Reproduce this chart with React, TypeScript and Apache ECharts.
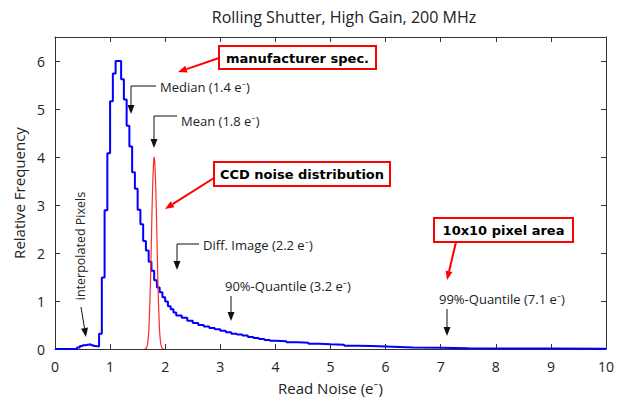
import React, { useEffect, useRef } from "react";
import * as echarts from "echarts";

// Histogram of read noise (bin left edges and heights)
const histEdges = [
  0, 0.4, 0.45, 0.5, 0.55, 0.6, 0.65, 0.7, 0.75, 0.8,
  0.85, 0.9, 0.95, 1.0, 1.05, 1.1, 1.15, 1.2, 1.25, 1.3, 1.35, 1.4, 1.45, 1.5, 1.55, 1.6, 1.65, 1.7, 1.75, 1.8, 1.85, 1.9, 1.95, 2.0, 2.05, 2.1, 2.15, 2.2,
  2.3, 2.4, 2.5, 2.6, 2.7, 2.8, 2.9, 3.0, 3.1, 3.2, 3.3, 3.4, 3.5, 3.6, 3.7, 3.8, 3.9, 4.0,
  4.2, 4.4, 4.6, 4.8, 5.0,
  5.25, 5.5, 5.75, 6.0, 6.25, 6.5,
  7.0, 7.5, 8.0, 9.0,
];
const histValues = [
  0, 0.03, 0.06, 0.08, 0.09, 0.1, 0.08, 0.06, 0.05, 0.32,
  1.49, 2.89, 4.08, 5.16, 5.74, 6.0, 6.0, 5.62, 5.2, 4.65, 4.22, 3.68, 3.34, 2.9, 2.6, 2.25, 2.05, 1.82, 1.63, 1.43, 1.28, 1.18, 1.08, 0.99, 0.89, 0.83, 0.76, 0.7,
  0.65, 0.59, 0.54, 0.5, 0.47, 0.44, 0.41, 0.38, 0.35, 0.32, 0.3, 0.28, 0.25, 0.23, 0.21, 0.19, 0.17, 0.16,
  0.14, 0.13, 0.11, 0.1, 0.09,
  0.07, 0.06, 0.05, 0.04, 0.03, 0.025,
  0.015, 0.01, 0.008, 0.005,
];
const histEnd = 10;

// CCD noise distribution (red curve)
const ccdX = [1.62, 1.66, 1.69, 1.71, 1.73, 1.75, 1.77, 1.79, 1.8, 1.81, 1.83, 1.85, 1.87, 1.89, 1.91, 1.94, 1.98];
const ccdY = [0, 0.02, 0.2, 0.6, 1.3, 2.3, 3.3, 3.9, 4.0, 3.9, 3.3, 2.3, 1.3, 0.6, 0.2, 0.02, 0];

const xTicks = [0, 1, 2, 3, 4, 5, 6, 7, 8, 9, 10];
const yTicks = [0, 1, 2, 3, 4, 5, 6];

const TXT = "'Open Sans', Lato, sans-serif";
const BOLD = "'DejaVu Sans', Verdana, sans-serif";

function head(x1: number, y1: number, x2: number, y2: number, color: string, len: number, wid: number) {
  const dx = x2 - x1, dy = y2 - y1;
  const d = Math.hypot(dx, dy) || 1;
  const ux = dx / d, uy = dy / d;
  const bx = x2 - ux * len, by = y2 - uy * len;
  const px = -uy * wid / 2, py = ux * wid / 2;
  return {
    base: [bx, by],
    el: {
      type: "polygon",
      shape: { points: [[x2, y2], [bx + px, by + py], [bx - px, by - py]] },
      style: { fill: color },
      silent: true,
    },
  };
}

function arrowPath(pts: number[][], color: string, lw: number, len: number, wid: number) {
  const n = pts.length;
  const h = head(pts[n - 2][0], pts[n - 2][1], pts[n - 1][0], pts[n - 1][1], color, len, wid);
  const linePts = pts.slice(0, n - 1).concat([h.base]);
  return [
    { type: "polyline", shape: { points: linePts }, style: { stroke: color, lineWidth: lw, fill: "none" }, silent: true },
    h.el,
  ];
}

function label(x: number, y: number, text: string) {
  return {
    type: "text",
    x, y,
    style: { text, font: `13px ${TXT}`, fill: "#222", textAlign: "left", textVerticalAlign: "middle" },
    silent: true,
  };
}

function redBox(x: number, y: number, w: number, h: number, text: string) {
  return [
    { type: "rect", shape: { x, y, width: w, height: h }, style: { fill: "#fff", stroke: "#ff0000", lineWidth: 2 }, silent: true },
    {
      type: "text", x: x + w / 2, y: y + h / 2 + 0.5,
      style: { text, font: `bold 13px ${BOLD}`, fill: "#000", textAlign: "center", textVerticalAlign: "middle" },
      silent: true,
    },
  ];
}

export default function App() {
  const ref = useRef<HTMLDivElement>(null);
  useEffect(() => {
    if (!ref.current) return;
    const chart = echarts.init(ref.current, null, { renderer: "svg" });

    const histData = histEdges.map((e, i) => [e, histValues[i]]);
    histData.push([histEnd, histValues[histValues.length - 1]]);
    const ccdData = ccdX.map((x, i) => [x, ccdY[i]]);

    const black = "#111";
    const graphics: any[] = [
      ...redBox(219, 46, 157, 23, "manufacturer spec."),
      ...arrowPath([[219, 58], [178, 72]], "#ff0000", 2, 9, 7),
      ...redBox(214, 162, 176, 24, "CCD noise distribution"),
      ...arrowPath([[214, 178], [165, 209]], "#ff0000", 2, 9, 7),
      ...redBox(434, 218, 139, 24, "10x10 pixel area"),
      ...arrowPath([[456, 242], [447, 280]], "#ff0000", 2, 9, 7),

      label(160, 87, "Median (1.4 e⁻)"),
      ...arrowPath([[156, 86], [131, 86], [131, 114]], black, 1, 9, 7),
      label(181, 121, "Mean (1.8 e⁻)"),
      ...arrowPath([[177, 116], [154, 116], [154, 148]], black, 1, 9, 7),
      label(203, 245, "Diff. Image (2.2 e⁻)"),
      ...arrowPath([[199, 244], [177, 244], [177, 270]], black, 1, 9, 7),
      label(225, 286, "90%-Quantile (3.2 e⁻)"),
      ...arrowPath([[231, 296], [231, 321]], black, 1, 9, 7),
      label(439, 299, "99%-Quantile (7.1 e⁻)"),
      ...arrowPath([[447, 309], [447, 336]], black, 1, 9, 7),
      {
        type: "text", x: 80, y: 246, rotation: Math.PI / 2,
        style: { text: "interpolated Pixels", font: `12.5px ${TXT}`, fill: "#222", textAlign: "center", textVerticalAlign: "middle" },
        silent: true,
      },
      ...arrowPath([[81, 307], [86, 337]], black, 1, 9, 7),
    ];

    const axisCommon = {
      axisLine: { show: true, onZero: false, lineStyle: { color: "#333", width: 1 } },
      axisTick: { show: true, inside: true, length: 5, lineStyle: { color: "#333" } },
      splitLine: { show: false },
    };

    chart.setOption({
      animation: false,
      backgroundColor: "#fff",
      title: {
        text: "Rolling Shutter, High Gain, 200 MHz",
        left: 339, top: 4, textAlign: "center",
        textStyle: { fontFamily: TXT, fontSize: 16, fontWeight: "normal", color: "#222" },
      },
      grid: { left: 55, right: 19, top: 37, bottom: 54, show: false },
      xAxis: [
        {
          type: "value", min: xTicks[0], max: xTicks[xTicks.length - 1], interval: 1, position: "bottom",
          ...axisCommon,
          axisLabel: { fontFamily: TXT, fontSize: 14, color: "#222", margin: 10 },
          name: "Read Noise (e⁻)", nameLocation: "middle", nameGap: 31,
          nameTextStyle: { fontFamily: TXT, fontSize: 15, color: "#222" },
        },
        {
          type: "value", min: xTicks[0], max: xTicks[xTicks.length - 1], interval: 1, position: "top",
          ...axisCommon, axisLabel: { show: false },
        },
      ],
      yAxis: [
        {
          type: "value", min: yTicks[0], max: 6.5, interval: 1, position: "left",
          ...axisCommon,
          axisLabel: {
            fontFamily: TXT, fontSize: 14, color: "#222", margin: 10,
            formatter: (v: number) => (yTicks.includes(v) ? String(v) : ""),
          },
          name: "Relative Frequency", nameLocation: "middle", nameGap: 28,
          nameTextStyle: { fontFamily: TXT, fontSize: 15, color: "#222" },
        },
        {
          type: "value", min: yTicks[0], max: 6.5, interval: 1, position: "right",
          ...axisCommon, axisLabel: { show: false },
        },
      ],
      series: [
        {
          type: "line", data: histData, step: "end", symbol: "none",
          lineStyle: { color: "#0000ff", width: 2 }, xAxisIndex: 0, yAxisIndex: 0, z: 3,
        },
        {
          type: "line", data: ccdData, smooth: true, symbol: "none",
          lineStyle: { color: "#ff2a2a", width: 1.2 }, xAxisIndex: 0, yAxisIndex: 0, z: 4,
        },
      ],
      graphic: graphics,
    });
    return () => chart.dispose();
  }, []);
  return <div ref={ref} style={{ width: 625, height: 403, position: "absolute", left: 0, top: 0 }} />;
}
